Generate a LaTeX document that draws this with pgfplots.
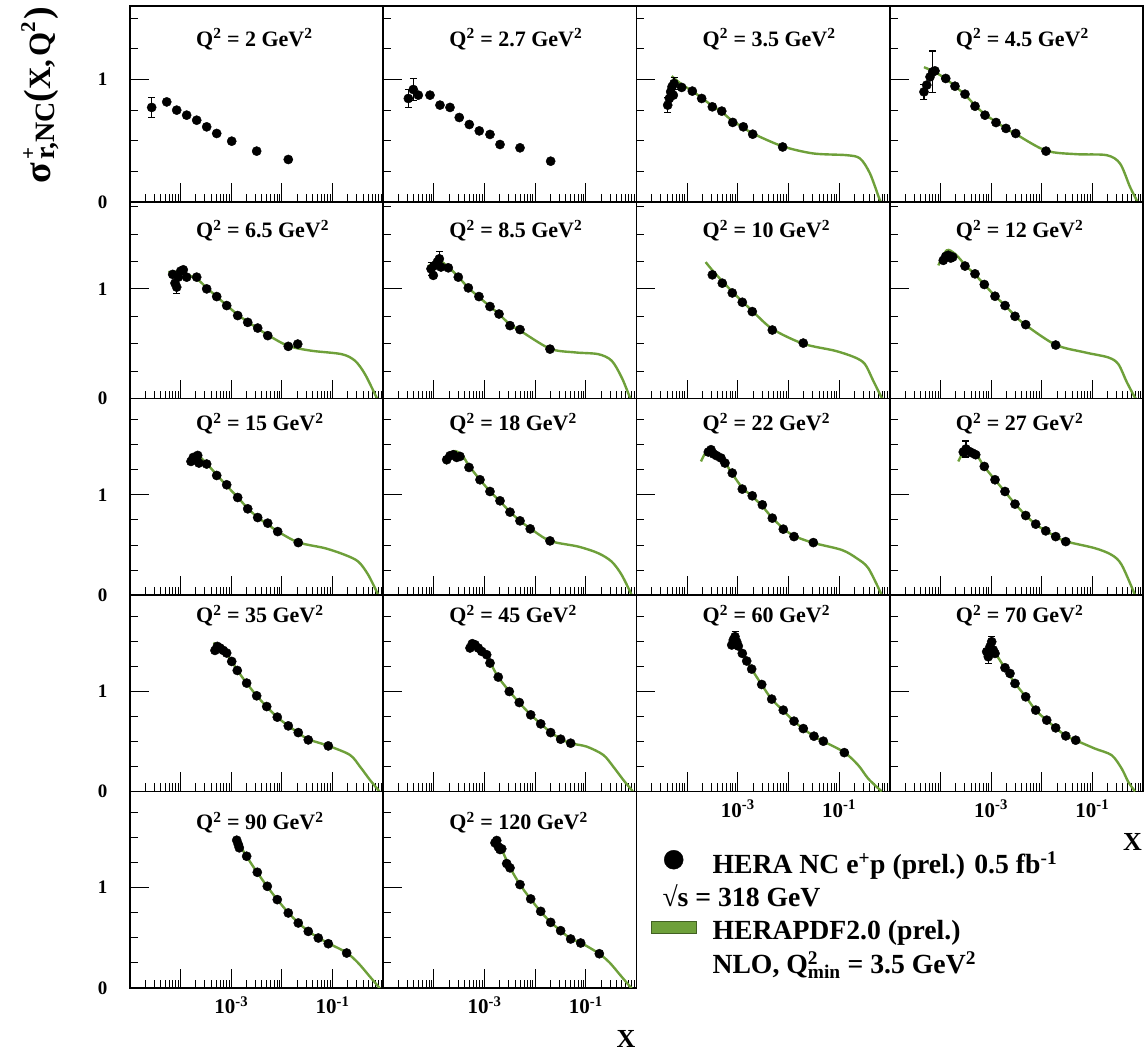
\documentclass[border=0pt]{standalone}
\usepackage{fontspec}
\setmainfont{Liberation Serif}
\usepackage{pgfplots}
\pgfplotsset{compat=1.18}
\definecolor{hgreen}{RGB}{110,160,58}
\newcommand\tlf{\fontsize{19}{21}\selectfont\bfseries}
\newcommand\xtlf{\fontsize{21}{23}\selectfont\bfseries}
\newcommand\ttf{\fontsize{22}{24}\selectfont\bfseries}
\newcommand\lgf{\fontsize{27.7}{30}\selectfont\bfseries}
\newcommand\fs[1]{\fontsize{#1}{#1}\selectfont}
\newcommand\tenexp[1]{10\textsuperscript{#1}}
\newcommand\ttl[2]{\node[anchor=base west,xshift=66pt,yshift=-#2pt,font=\ttf,inner sep=0pt] at (rel axis cs:0,1) {Q\textsuperscript{2} = #1 GeV\textsuperscript{2}};}
\pgfplotsset{
  hpanel/.style={
    scale only axis, width=253.25pt, height=196.4pt, anchor=north west,
    xmin=1e-5, xmax=1, ymin=0,
    tick align=inside, tick pos=left,
    xtick={1e-4,1e-3,1e-2,1e-1},
    minor xtick={2e-5,3e-5,4e-5,5e-5,6e-5,7e-5,8e-5,9e-5,
      2e-4,3e-4,4e-4,5e-4,6e-4,7e-4,8e-4,9e-4,
      2e-3,3e-3,4e-3,5e-3,6e-3,7e-3,8e-3,9e-3,
      2e-2,3e-2,4e-2,5e-2,6e-2,7e-2,8e-2,9e-2,
      0.2,0.3,0.4,0.5,0.6,0.7,0.8,0.9},
    ytick={0,1}, minor ytick={0.25,0.5,0.75,1.25,1.5,1.75},
    major tick length=19pt, minor tick length=8pt,
    xticklabels={,,,}, yticklabels={,},
    axis line style={line width=1.5pt},
    major tick style={line width=1.1pt,black},
    minor tick style={line width=0.8pt,black},
    xticklabel style={font=\xtlf, yshift=-5pt},
    yticklabel style={font=\tlf, xshift=-19pt},
  },
  hylab/.style={yticklabels={0,1}},
  hxlab/.style={xticklabels={,\tenexp{-3},,\tenexp{-1}}},
  hxname/.style={xlabel={X}, xlabel style={at={(axis description cs:1,0)}, anchor=north east, yshift=-42pt, xshift=-1pt, inner sep=0pt, font=\fs{26}\bfseries}},
  hdat/.style={only marks, mark=*, mark size=4.6pt, black},
  hdater/.style={only marks, mark=*, mark size=4.6pt, black,
    error bars/y dir=both, error bars/y explicit,
    error bars/error bar style={line width=1.1pt, black},
    error bars/error mark options={rotate=90, mark size=3.5pt, line width=1.1pt, black}},
  hth/.style={hgreen, line width=2.4pt, smooth, tension=0.5, no markers},
}
\begin{document}
\begin{tikzpicture}
\useasboundingbox (0pt,0pt) rectangle (1144pt,-1052pt);
\node[rotate=90, anchor=base east, inner sep=0pt, font=\bfseries] at (50pt,-7pt)
  {\fs{38}σ\kern3pt\rlap{\raisebox{15pt}{\fs{21}+}}\raisebox{-4pt}{\fs{28}r,NC}\fs{38}(\fs{31}X,\kern3pt Q\raisebox{15pt}{\fs{21}2}\kern2pt\fs{38})};

% ---------------- Row 1 ----------------
\begin{axis}[xmode=log, hpanel, hylab, ymax=1.6, at={(130pt,-5.8pt)}]
\addplot[hdat] coordinates {(5.31e-5,0.817) (8.36e-5,0.750) (1.315e-4,0.709) (2.075e-4,0.668) (3.266e-4,0.614) (5.15e-4,0.560) (1.019e-3,0.497) (3.17e-3,0.416) (1.334e-2,0.348)};
\addplot[hdater] coordinates {(2.68e-5,0.772) +- (0,0.08)};
\ttl{2}{40.6}
\end{axis}
\begin{axis}[xmode=log, hpanel, ymax=1.6, at={(383.25pt,-5.8pt)}]
\addplot[hdat] coordinates {(4.92e-5,0.872) (8.38e-5,0.872) (1.318e-4,0.791) (2.08e-4,0.772) (3.17e-4,0.690) (5.00e-4,0.633) (7.87e-4,0.581) (1.28e-3,0.552) (2.02e-3,0.470) (5.01e-3,0.443) (2.02e-2,0.334)};
\addplot[hdater] coordinates {(3.13e-5,0.845) +- (0,0.07) (3.92e-5,0.918) +- (0,0.09)};
\ttl{2.7}{40.6}
\end{axis}
\begin{axis}[xmode=log, hpanel, ymax=1.6, at={(636.5pt,-5.8pt)}]
\addplot[hth] coordinates {(4.95e-5,1.027) (7.80e-5,0.96) (1.265e-4,0.905) (1.936e-4,0.85) (3.14e-4,0.785) (4.82e-4,0.735) (7.94e-4,0.66) (1.285e-3,0.61) (1.97e-3,0.56) (7.69e-3,0.455) (3.10e-2,0.397) (0.1413,0.383) (0.259,0.356) (0.407,0.234) (0.640,0.016) (0.708,0)};
\addplot[hdat] coordinates {(4.45e-5,0.845) (4.73e-5,0.899) (5.02e-5,0.940) (5.33e-5,0.872) (7.80e-5,0.935) (1.265e-4,0.905) (1.936e-4,0.845) (3.14e-4,0.777) (4.82e-4,0.742) (7.94e-4,0.650) (1.285e-3,0.614) (1.97e-3,0.554) (7.69e-3,0.450)};
\addplot[hdater] coordinates {(4.13e-5,0.791) +- (0,0.06) (5.50e-5,0.967) +- (0,0.05)};
\ttl{3.5}{40.6}
\end{axis}
\begin{axis}[xmode=log, hpanel, ymax=1.6, at={(889.75pt,-5.8pt)}]
\addplot[hth] coordinates {(4.74e-5,1.10) (7.82e-5,1.06) (1.274e-4,1.005) (1.94e-4,0.945) (3.06e-4,0.875) (4.82e-4,0.79) (7.59e-4,0.715) (1.253e-3,0.655) (1.97e-3,0.60) (3.07e-3,0.555) (1.216e-2,0.42) (4.91e-2,0.391) (0.192,0.383) (0.352,0.315) (0.553,0.125) (0.752,0.016) (0.794,0)};
\addplot[hdat] coordinates {(5.37e-5,0.954) (6.24e-5,1.021) (7.82e-5,1.070) (1.274e-4,1.008) (1.94e-4,0.945) (3.06e-4,0.880) (4.82e-4,0.782) (7.59e-4,0.709) (1.253e-3,0.649) (1.97e-3,0.601) (3.07e-3,0.560) (1.216e-2,0.416)};
\addplot[hdater] coordinates {(4.74e-5,0.899) +- (0,0.06) (7.05e-5,1.062) +- (0,0.17)};
\ttl{4.5}{40.6}
\end{axis}

% ---------------- Row 2 ----------------
\begin{axis}[xmode=log, hpanel, hylab, ymax=1.79, at={(130pt,-202.2pt)}]
\addplot[hth] coordinates {(5.70e-5,1.153) (1.002e-4,1.15) (2.075e-4,1.09) (3.266e-4,1.01) (5.15e-4,0.93) (8.11e-4,0.85) (1.337e-3,0.765) (2.11e-3,0.70) (3.32e-3,0.64) (5.24e-3,0.58) (1.334e-2,0.48) (3.86e-2,0.436) (0.151,0.405) (0.277,0.345) (0.437,0.222) (0.741,0.009) (0.78,0)};
\addplot[hdat] coordinates {(6.97e-5,1.132) (7.73e-5,1.052) (8.99e-5,1.107) (1.002e-4,1.162) (1.127e-4,1.174) (1.315e-4,1.107) (2.075e-4,1.107) (3.266e-4,1.000) (5.15e-4,0.930) (8.11e-4,0.848) (1.337e-3,0.757) (2.11e-3,0.695) (3.32e-3,0.643) (5.24e-3,0.574) (1.334e-2,0.476) (2.05e-2,0.497)};
\addplot[hdater] coordinates {(8.36e-5,1.016) +- (0,0.06)};
\ttl{6.5}{35.6}
\end{axis}
\begin{axis}[xmode=log, hpanel, ymax=1.79, at={(383.25pt,-202.2pt)}]
\addplot[hth] coordinates {(7.76e-5,1.205) (1.222e-4,1.26) (1.923e-4,1.20) (3.03e-4,1.11) (4.78e-4,1.01) (7.76e-4,0.925) (1.28e-3,0.84) (1.93e-3,0.77) (3.18e-3,0.675) (5.01e-3,0.62) (1.96e-2,0.455) (6.11e-2,0.421) (0.176,0.405) (0.324,0.345) (0.511,0.192) (0.745,0.009) (0.78,0)};
\addplot[hdat] coordinates {(9.73e-5,1.123) (1.052e-4,1.214) (1.167e-4,1.244) (1.38e-4,1.199) (1.923e-4,1.192) (3.03e-4,1.107) (4.78e-4,1.009) (7.76e-4,0.930) (1.28e-3,0.839) (1.93e-3,0.771) (3.18e-3,0.665) (5.01e-3,0.629) (1.96e-2,0.451)};
\addplot[hdater] coordinates {(8.77e-5,1.183) +- (0,0.06) (1.28e-4,1.274) +- (0,0.07)};
\ttl{8.5}{35.6}
\end{axis}
\begin{axis}[xmode=log, hpanel, ymax=1.79, at={(636.5pt,-202.2pt)}]
\addplot[hth] coordinates {(2.32e-4,1.244) (3.14e-4,1.17) (4.94e-4,1.07) (7.78e-4,0.975) (1.227e-3,0.885) (1.93e-3,0.80) (4.80e-3,0.635) (1.963e-2,0.50) (8.30e-2,0.436) (0.206,0.375) (0.324,0.314) (0.473,0.162) (0.693,0.009) (0.74,0)};
\addplot[hdat] coordinates {(3.14e-4,1.128) (4.94e-4,1.052) (7.78e-4,0.963) (1.227e-3,0.878) (1.93e-3,0.793) (4.80e-3,0.625) (1.963e-2,0.506)};
\ttl{10}{35.6}
\end{axis}
\begin{axis}[xmode=log, hpanel, ymax=1.79, at={(889.75pt,-202.2pt)}]
\addplot[hth] coordinates {(9.10e-5,1.214) (1.33e-4,1.351) (1.94e-4,1.32) (3.06e-4,1.22) (4.82e-4,1.13) (7.36e-4,1.04) (1.197e-3,0.935) (1.888e-3,0.85) (2.97e-3,0.755) (4.83e-3,0.67) (1.888e-2,0.49) (7.16e-2,0.421) (0.207,0.375) (0.326,0.314) (0.476,0.153) (0.695,0.009) (0.74,0)};
\addplot[hdat] coordinates {(1.140e-4,1.260) (1.274e-4,1.296) (1.432e-4,1.306) (1.596e-4,1.281) (1.75e-4,1.290) (3.06e-4,1.208) (4.82e-4,1.137) (7.36e-4,1.040) (1.197e-3,0.933) (1.888e-3,0.848) (2.97e-3,0.750) (4.83e-3,0.674) (1.888e-2,0.488)};
\ttl{12}{35.6}
\end{axis}

% ---------------- Row 3 ----------------
\begin{axis}[xmode=log, hpanel, hylab, ymax=1.96, at={(130pt,-398.6pt)}]
\addplot[hth] coordinates {(1.531e-4,1.317) (2.075e-4,1.40) (3.266e-4,1.31) (5.15e-4,1.20) (8.11e-4,1.09) (1.337e-3,0.975) (2.11e-3,0.865) (3.32e-3,0.775) (5.24e-3,0.705) (8.24e-3,0.635) (2.10e-2,0.525) (7.08e-2,0.467) (0.176,0.40) (0.322,0.333) (0.507,0.20) (0.798,0)};
\addplot[hdat] coordinates {(1.60e-4,1.333) (1.778e-4,1.373) (1.98e-4,1.350) (2.17e-4,1.393) (2.30e-4,1.317) (3.266e-4,1.307) (5.15e-4,1.193) (8.11e-4,1.100) (1.337e-3,0.973) (2.11e-3,0.860) (3.32e-3,0.773) (5.24e-3,0.717) (8.24e-3,0.633) (2.10e-2,0.523)};
\ttl{15}{32}
\end{axis}
\begin{axis}[xmode=log, hpanel, ymax=1.96, at={(383.25pt,-398.6pt)}]
\addplot[hth] coordinates {(1.71e-4,1.307) (2.415e-4,1.433) (3.54e-4,1.40) (4.93e-4,1.29) (8.13e-4,1.15) (1.28e-3,1.035) (2.02e-3,0.935) (3.18e-3,0.83) (5.01e-3,0.74) (7.98e-3,0.665) (1.96e-2,0.54) (7.10e-2,0.483) (0.176,0.417) (0.324,0.333) (0.511,0.20) (0.803,0)};
\addplot[hdat] coordinates {(1.79e-4,1.35) (2.08e-4,1.39) (2.415e-4,1.40) (2.82e-4,1.373) (3.27e-4,1.383) (4.93e-4,1.273) (8.13e-4,1.15) (1.28e-3,1.033) (2.02e-3,0.94) (3.18e-3,0.827) (5.01e-3,0.74) (7.98e-3,0.66) (1.96e-2,0.54)};
\ttl{18}{32}
\end{axis}
\begin{axis}[xmode=log, hpanel, ymax=1.96, at={(636.5pt,-398.6pt)}]
\addplot[hth] coordinates {(1.875e-4,1.333) (2.618e-4,1.457) (3.83e-4,1.40) (5.58e-4,1.32) (7.78e-4,1.21) (1.227e-3,1.07) (1.93e-3,0.985) (3.05e-3,0.885) (4.80e-3,0.77) (7.91e-3,0.665) (1.288e-2,0.59) (3.10e-2,0.52) (0.1125,0.45) (0.222,0.367) (0.378,0.267) (0.693,0)};
\addplot[hdat] coordinates {(2.618e-4,1.427) (2.96e-4,1.45) (3.34e-4,1.407) (3.83e-4,1.39) (4.66e-4,1.367) (5.58e-4,1.317) (7.78e-4,1.217) (1.227e-3,1.057) (1.93e-3,0.99) (3.05e-3,0.90) (4.80e-3,0.767) (7.91e-3,0.657) (1.288e-2,0.583) (3.10e-2,0.523)};
\ttl{22}{32}
\end{axis}
\begin{axis}[xmode=log, hpanel, ymax=1.96, at={(889.75pt,-398.6pt)}]
\addplot[hth] coordinates {(2.254e-4,1.333) (3.30e-4,1.467) (4.98e-4,1.41) (7.36e-4,1.28) (1.197e-3,1.15) (1.884e-3,1.03) (2.97e-3,0.91) (4.83e-3,0.795) (7.62e-3,0.705) (1.20e-2,0.64) (1.888e-2,0.585) (2.98e-2,0.535) (0.1127,0.467) (0.241,0.40) (0.380,0.30) (0.695,0)};
\addplot[hdat] coordinates {(2.83e-4,1.427) (3.67e-4,1.433) (4.27e-4,1.417) (4.98e-4,1.40) (7.36e-4,1.283) (1.197e-3,1.15) (1.884e-3,1.033) (2.97e-3,0.907) (4.83e-3,0.793) (7.62e-3,0.707) (1.20e-2,0.64) (1.888e-2,0.583) (2.98e-2,0.533)};
\addplot[hdater] coordinates {(3.20e-4,1.457) +- (0,0.08)};
\ttl{27}{32}
\end{axis}

% ---------------- Row 4 ----------------
\begin{axis}[xmode=log, hpanel, hylab, ymax=1.96, at={(130pt,-595pt)}]
\addplot[hth] coordinates {(4.42e-4,1.481) (6.95e-4,1.42) (1.019e-3,1.30) (1.312e-3,1.21) (2.01e-3,1.08) (3.17e-3,0.955) (5.00e-3,0.845) (8.09e-3,0.74) (1.334e-2,0.655) (2.10e-2,0.585) (3.31e-2,0.52) (8.22e-2,0.455) (0.220,0.364) (0.348,0.247) (0.547,0.114) (0.798,0.014) (0.83,0)};
\addplot[hdat] coordinates {(4.76e-4,1.407) (5.30e-4,1.447) (5.98e-4,1.431) (6.95e-4,1.407) (8.11e-4,1.381) (1.019e-3,1.297) (1.312e-3,1.207) (2.01e-3,1.081) (3.17e-3,0.954) (5.00e-3,0.847) (8.09e-3,0.741) (1.334e-2,0.654) (2.10e-2,0.587) (3.31e-2,0.514) (8.22e-2,0.454)};
\ttl{35}{27.6}
\end{axis}
\begin{axis}[xmode=log, hpanel, ymax=1.96, at={(383.25pt,-595pt)}]
\addplot[hth] coordinates {(5.00e-4,1.497) (7.53e-4,1.44) (1.102e-3,1.35) (1.282e-3,1.29) (1.866e-3,1.14) (3.08e-3,1.0) (4.85e-3,0.885) (8.15e-3,0.765) (1.285e-2,0.675) (2.02e-2,0.59) (3.18e-2,0.525) (5.02e-2,0.48) (0.104,0.447) (0.221,0.364) (0.348,0.247) (0.550,0.114) (0.803,0.014) (0.83,0)};
\addplot[hdat] coordinates {(5.16e-4,1.431) (5.73e-4,1.474) (6.47e-4,1.464) (7.53e-4,1.431) (8.79e-4,1.397) (1.102e-3,1.364) (1.282e-3,1.281) (1.866e-3,1.141) (3.08e-3,0.997) (4.85e-3,0.887) (8.15e-3,0.764) (1.285e-2,0.674) (2.02e-2,0.587) (3.18e-2,0.521) (5.02e-2,0.481)};
\ttl{45}{27.6}
\end{axis}
\begin{axis}[xmode=log, hpanel, hxlab, ymax=1.96, at={(636.5pt,-595pt)}]
\addplot[hth] coordinates {(8.15e-4,1.561) (1.023e-3,1.46) (1.50e-3,1.31) (1.879e-3,1.22) (2.965e-3,1.065) (4.67e-3,0.92) (7.91e-3,0.805) (1.288e-2,0.70) (1.963e-2,0.625) (3.19e-2,0.55) (4.88e-2,0.50) (0.1268,0.39) (0.239,0.261) (0.377,0.127) (0.693,0)};
\addplot[hdat] coordinates {(7.59e-4,1.461) (8.15e-4,1.511) (9.51e-4,1.494) (1.023e-3,1.451) (1.227e-3,1.377) (1.50e-3,1.301) (1.879e-3,1.221) (2.965e-3,1.067) (4.67e-3,0.921) (7.91e-3,0.811) (1.288e-2,0.701) (1.963e-2,0.627) (3.19e-2,0.551) (4.88e-2,0.501) (0.1268,0.387)};
\addplot[hdater] coordinates {(8.81e-4,1.544) +- (0,0.05)};
\ttl{60}{27.6}
\end{axis}
\begin{axis}[xmode=log, hpanel, hxlab, hxname, ymax=1.96, at={(889.75pt,-595pt)}]
\addplot[hth] coordinates {(1.107e-3,1.411) (1.884e-3,1.23) (2.97e-3,1.08) (4.83e-3,0.945) (7.62e-3,0.81) (1.256e-2,0.71) (1.888e-2,0.635) (2.98e-2,0.555) (4.69e-2,0.51) (0.1127,0.427) (0.241,0.361) (0.380,0.227) (0.513,0.094) (0.695,0)};
\addplot[hdat] coordinates {(8.20e-4,1.394) (9.53e-4,1.444) (1.107e-3,1.411) (1.197e-3,1.377) (1.884e-3,1.234) (2.366e-3,1.177) (2.97e-3,1.077) (4.83e-3,0.944) (7.62e-3,0.811) (1.256e-2,0.711) (1.888e-2,0.634) (2.98e-2,0.554) (4.69e-2,0.511)};
\addplot[hdater] coordinates {(8.83e-4,1.344) +- (0,0.07) (1.030e-3,1.494) +- (0,0.05)};
\ttl{70}{27.6}
\end{axis}

% ---------------- Row 5 ----------------
\begin{axis}[xmode=log, hpanel, hylab, hxlab, ymax=1.96, at={(130pt,-791.4pt)}]
\addplot[hth] coordinates {(1.239e-3,1.487) (2.01e-3,1.31) (3.26e-3,1.15) (5.14e-3,1.01) (8.09e-3,0.88) (1.334e-2,0.75) (2.10e-2,0.65) (3.31e-2,0.565) (5.22e-2,0.50) (8.22e-2,0.445) (0.1897,0.35) (0.321,0.247) (0.507,0.13) (0.798,0.013) (0.83,0)};
\addplot[hdat] coordinates {(1.28e-3,1.473) (1.374e-3,1.43) (1.439e-3,1.397) (2.01e-3,1.313) (3.26e-3,1.153) (5.14e-3,1.013) (8.09e-3,0.88) (1.334e-2,0.747) (2.10e-2,0.647) (3.31e-2,0.563) (5.22e-2,0.497) (8.22e-2,0.44) (0.1897,0.347)};
\ttl{90}{38.2}
\end{axis}
\begin{axis}[xmode=log, hpanel, hxlab, hxname, ymax=1.96, at={(383.25pt,-791.4pt)},
  legend cell align=left,
  legend style={at={(rel axis cs:1.0561,0.7016)}, anchor=north west, draw=none, fill=none,
    inner sep=0pt, outer sep=0pt, nodes={inner sep=0pt, font=\lgf}, row sep=7.3pt, column sep=16pt}]
\addlegendimage{legend image code/.code={\path[draw=none,fill=none] (0pt,-13pt) rectangle (45pt,13pt); \fill[black] (22.6pt,3.5pt) circle (9.5pt);}}
\addlegendentry{\rule[-7pt]{0pt}{27pt}HERA NC e\textsuperscript{+}p (prel.) 0.5 fb\textsuperscript{-1}}
\addlegendimage{legend image code/.code={\path[draw=none,fill=none] (0pt,-13pt) rectangle (45pt,13pt);}}
\addlegendentry{\rule[-7pt]{0pt}{27pt}\hspace*{-50pt}√s = 318 GeV}
\addlegendimage{legend image code/.code={\path[draw=none,fill=none] (0pt,-13pt) rectangle (45pt,13pt); \filldraw[fill=hgreen, draw=hgreen!60!black, line width=0.8pt] (0pt,-3.5pt) rectangle (45pt,8.2pt);}}
\addlegendentry{\rule[-7pt]{0pt}{27pt}HERAPDF2.0 (prel.)}
\addlegendimage{legend image code/.code={\path[draw=none,fill=none] (0pt,-13pt) rectangle (45pt,13pt);}}
\addlegendentry{\rule[-7pt]{0pt}{27pt}NLO, Q\rlap{\textsuperscript{2}}\textsubscript{min} = 3.5 GeV\textsuperscript{2}}
\addplot[hth, forget plot] coordinates {(1.683e-3,1.487) (2.183e-3,1.38) (3.18e-3,1.20) (5.01e-3,1.03) (8.15e-3,0.885) (1.285e-2,0.76) (2.02e-2,0.655) (3.18e-2,0.57) (5.02e-2,0.49) (7.91e-2,0.45) (0.1845,0.34) (0.300,0.247) (0.472,0.13) (0.745,0.013) (0.78,0)};
\addplot[hdat, forget plot] coordinates {(1.607e-3,1.447) (1.738e-3,1.47) (1.866e-3,1.407) (2.02e-3,1.38) (2.183e-3,1.387) (2.735e-3,1.24) (3.18e-3,1.197) (5.01e-3,1.03) (8.15e-3,0.887) (1.285e-2,0.763) (2.02e-2,0.653) (3.18e-2,0.57) (5.02e-2,0.487) (7.91e-2,0.447) (0.1845,0.34)};
\ttl{120}{38.2}
\end{axis}
\end{tikzpicture}
\end{document}
